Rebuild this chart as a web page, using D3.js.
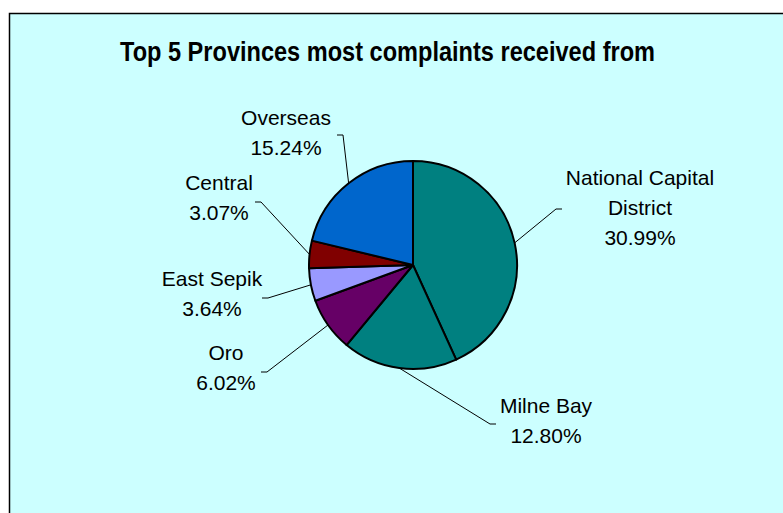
<!DOCTYPE html>
<html>
<head>
<meta charset="utf-8">
<script src="https://cdn.jsdelivr.net/npm/d3@7"></script>
<style>
  body { margin: 0; background: #fff; }
  svg { display: block; }
  .lbl { font-family: "Liberation Sans", Arial, sans-serif; font-size: 21px; fill: #000; }
  .title { font-family: "Liberation Sans Narrow", "Arial Narrow", "Liberation Sans", sans-serif; font-weight: bold; font-size: 27px; fill: #000; }
</style>
</head>
<body>
<svg id="chart"></svg>
<script>
const WIDTH = 783
const HEIGHT = 513

// data
const provinces = ['National Capital District', 'Milne Bay', 'Oro', 'East Sepik', 'Central', 'Overseas']
const shares = [30.99, 12.80, 6.02, 3.64, 3.07, 15.24]
const labelLines = [['National Capital', 'District'], ['Milne Bay'], ['Oro'], ['East Sepik'], ['Central'], ['Overseas']]
const sliceColors = ['#008080', '#008080', '#660066', '#9999FF', '#800000', '#0066CC']

// label placement (x center, first baseline, leader elbow, side of tick)
const labelLayout = {
    'National Capital District': {x: 640, y: 185, ex: 556, ey: 209, dir: 1},
    'Milne Bay': {x: 546, y: 413, ex: 490, ey: 424, dir: 1},
    'Oro': {x: 226, y: 360, ex: 267, ey: 372, dir: -1},
    'East Sepik': {x: 212, y: 286, ex: 268, ey: 298, dir: -1},
    'Central': {x: 219, y: 190, ex: 261, ey: 202, dir: -1},
    'Overseas': {x: 286, y: 125, ex: 343, ey: 135, dir: -1}
}

const CX = 413, CY = 265, R = 104
const LINE_H = 30

let data = provinces.map((p, i) => ({name: p, value: shares[i], lines: labelLines[i], color: sliceColors[i]}))

let svg = d3.select('#chart')
    .attr('width', WIDTH)
    .attr('height', HEIGHT)

// chart area background + frame
svg.append('rect')
    .attr('x', 9.5)
    .attr('y', 13.5)
    .attr('width', WIDTH + 20)
    .attr('height', HEIGHT + 20)
    .attr('fill', '#CCFFFF')
    .attr('stroke', '#000')
    .attr('stroke-width', 1.5)

// narrow bold title (no narrow font installed, so squeeze it)
svg.append('text')
    .attr('class', 'title')
    .attr('x', 120)
    .attr('y', 61)
    .attr('textLength', 535)
    .attr('lengthAdjust', 'spacingAndGlyphs')
    .text('Top 5 Provinces most complaints received from')

let pie = d3.pie().sort(null).value(d => d.value)
let arcs = pie(data)

let arc = d3.arc().innerRadius(0).outerRadius(R)

let pieG = svg.append('g')
    .attr('transform', 'translate(' + CX + ',' + CY + ')')

pieG.selectAll('path')
    .data(arcs)
    .join('path')
    .attr('d', arc)
    .attr('fill', d => d.data.color)
    .attr('stroke', '#000')
    .attr('stroke-width', 2)
    .attr('stroke-linejoin', 'round')

// leader lines
let leaders = svg.append('g')
arcs.forEach(a => {
    let lay = labelLayout[a.data.name]
    let mid = (a.startAngle + a.endAngle) / 2
    let px = CX + R * Math.sin(mid)
    let py = CY - R * Math.cos(mid)
    leaders.append('polyline')
        .attr('points', [[px, py], [lay.ex, lay.ey], [lay.ex + 6 * lay.dir, lay.ey]].map(p => p.join(',')).join(' '))
        .attr('fill', 'none')
        .attr('stroke', '#000')
        .attr('stroke-width', 1)
})

// labels
let f = d3.format('.2f')
let labels = svg.append('g')
arcs.forEach(a => {
    let lay = labelLayout[a.data.name]
    let rows = a.data.lines.concat([f(a.data.value) + '%'])
    rows.forEach((t, i) => {
        labels.append('text')
            .attr('class', 'lbl')
            .attr('x', lay.x)
            .attr('y', lay.y + i * LINE_H)
            .attr('text-anchor', 'middle')
            .text(t)
    })
})
</script>
</body>
</html>
